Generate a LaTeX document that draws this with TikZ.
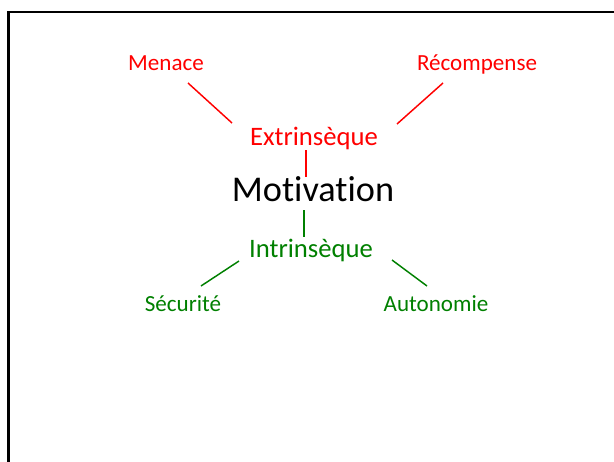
\documentclass[tikz,border=0pt]{standalone}
\usepackage{fontspec}
\setmainfont{Carlito}[Ligatures=NoCommon]
\definecolor{ext}{RGB}{255,0,0}
\definecolor{int}{RGB}{0,128,0}
\begin{document}
\begin{tikzpicture}[x=0.75pt,y=-0.75pt,
  leaf/.style={anchor=base,inner sep=0pt,font=\fontsize{17.3}{20}\selectfont},
  mid/.style={anchor=base,inner sep=0pt,font=\fontsize{20}{24}\selectfont},
  root/.style={anchor=base,inner sep=0pt,font=\fontsize{27.2}{32}\selectfont},
  link/.style={line width=1.1pt}]
\useasboundingbox (0,0) rectangle (614,461);
\clip (0,0) rectangle (614,461);
% slide frame
\draw[line width=1.6pt] (8.5,12) rectangle (700,600);

% labels
\node[root] (mot) at (313,201) {Motivation};
\node[mid,text=ext] (ext) at (314,145) {Extrinsèque};
\node[mid,text=int] (int) at (311,257) {Intrinsèque};
\node[leaf,text=ext] (men) at (166,70) {Menace};
\node[leaf,text=ext] (rec) at (477,70) {Récompense};
\node[leaf,text=int] (sec) at (183,311) {Sécurité};
\node[leaf,text=int] (aut) at (436,311) {Autonomie};

% connector ends
\coordinate (menA) at (188,83);  \coordinate (menB) at (232,123);
\coordinate (recA) at (443,83);  \coordinate (recB) at (397,124);
\coordinate (extA) at (306,150); \coordinate (extB) at (306,177);
\coordinate (intA) at (304,210); \coordinate (intB) at (304,237);
\coordinate (secA) at (239,261); \coordinate (secB) at (201,286);
\coordinate (autA) at (392,260); \coordinate (autB) at (427,286);

\draw[link,ext] (menA) -- (menB);
\draw[link,ext] (recA) -- (recB);
\draw[link,ext] (extA) -- (extB);
\draw[link,int] (intA) -- (intB);
\draw[link,int] (secA) -- (secB);
\draw[link,int] (autA) -- (autB);
\end{tikzpicture}
\end{document}
